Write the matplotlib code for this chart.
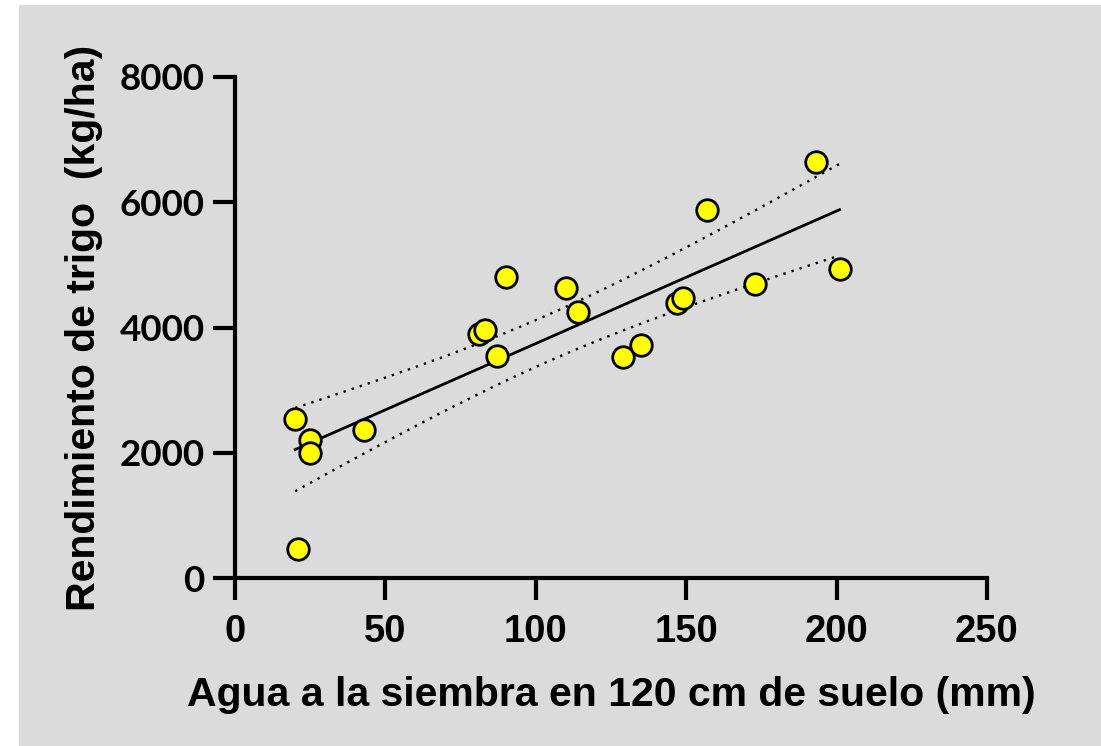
import numpy as np
import matplotlib
matplotlib.use("Agg")
import matplotlib.pyplot as plt
from matplotlib.patches import Rectangle

# Soil water at sowing (mm, 0-120 cm) and wheat yield (kg/ha)
agua_mm = [20, 25, 25, 21, 43, 81, 83, 87, 90, 110, 114, 129, 135, 147, 149, 157, 173, 193, 201]
rendimiento = [2540, 2200, 2000, 460, 2360, 3900, 3960, 3545, 4800, 4630, 4240, 3530, 3720,
               4390, 4470, 5870, 4700, 6640, 4935]

x_ticks = [0, 50, 100, 150, 200, 250]
y_ticks = [0, 2000, 4000, 6000, 8000]

x = np.array(agua_mm, dtype=float)
y = np.array(rendimiento, dtype=float)

# Least-squares fit and 95% confidence band of the mean
n = len(x)
slope, intercept = np.polyfit(x, y, 1)
resid = y - (slope * x + intercept)
s = np.sqrt(np.sum(resid ** 2) / (n - 2))
sxx = np.sum((x - x.mean()) ** 2)
t_crit = 2.1098  # t(0.975, df=17)
xf = np.linspace(x.min(), x.max(), 200)
yf = slope * xf + intercept
half = t_crit * s * np.sqrt(1.0 / n + (xf - x.mean()) ** 2 / sxx)

W, H = 1101, 746
fig = plt.figure(figsize=(W / 100, H / 100), dpi=100)
fig.patch.set_facecolor("white")
bg = "#dbdbdb"
fig.patches.append(Rectangle((19 / W, 0), 1 - 19 / W, 1 - 5 / H, transform=fig.transFigure,
                             facecolor=bg, edgecolor="none", zorder=-10))

ax = fig.add_axes([235 / W, 1 - 578 / H, (987 - 235) / W, (578 - 77) / H])
ax.set_facecolor("none")

ax.plot(xf, yf, color="black", lw=2.0, zorder=2)
ax.plot(xf, yf + half, color="black", lw=1.7, ls=(0, (1, 2.6)), zorder=2)
ax.plot(xf, yf - half, color="black", lw=1.7, ls=(0, (1, 2.6)), zorder=2)
ax.plot(x, y, ls="none", marker="o", ms=15.5, mfc="#ffff00", mec="black", mew=2.0, zorder=3)

ax.set_xlim(0, 250)
ax.set_ylim(0, 8000)
ax.set_xticks(x_ticks)
ax.set_yticks(y_ticks)
ax.set_xticklabels([str(v) for v in x_ticks])
ax.set_yticklabels([str(v) for v in y_ticks])

for side in ("top", "right"):
    ax.spines[side].set_visible(False)
for side in ("left", "bottom"):
    ax.spines[side].set_linewidth(3)
ax.tick_params(length=16, width=3, direction="out")
ax.tick_params(axis="x", pad=10)
ax.tick_params(axis="y", pad=6)

for lab in ax.get_xticklabels():
    lab.set_fontfamily("Liberation Sans")
    lab.set_fontweight("bold")
    lab.set_fontsize(27.5)
for lab in ax.get_yticklabels():
    lab.set_fontfamily("Lato")
    lab.set_fontweight("bold")
    lab.set_fontsize(26.5)

ax.set_xlabel("Agua a la siembra en 120 cm de suelo (mm)", fontfamily="Liberation Sans",
              fontweight="bold", fontsize=29.5, labelpad=19)
ax.set_ylabel("Rendimiento de trigo  (kg/ha)", fontfamily="Liberation Sans",
              fontweight="bold", fontsize=29.5, labelpad=12)

fig.savefig("out.png", dpi=100, facecolor=fig.get_facecolor())
